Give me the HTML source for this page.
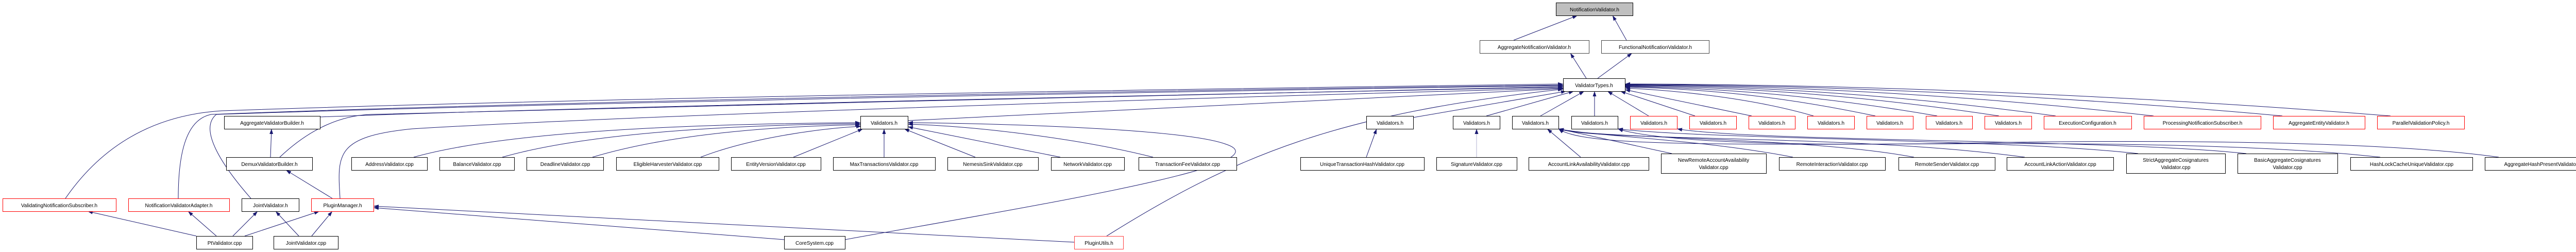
<!DOCTYPE html>
<html><head><meta charset="utf-8"><style>
html,body{margin:0;padding:0;background:#fff;}
svg{display:block;}
text{font-family:"Liberation Sans",Arial,sans-serif;font-size:10px;fill:#000;}
.e{fill:none;stroke:#191970;stroke-width:1;}
.n{fill:#fff;stroke:#000;stroke-width:1;}
.r{fill:#fff;stroke:#ff0000;stroke-width:1;}
.g{fill:#bfbfbf;stroke:#000;stroke-width:1;}
</style></head><body>
<svg width="5065" height="489" viewBox="0 0 5065 489" xmlns="http://www.w3.org/2000/svg">
<defs>
<marker id="a" markerUnits="userSpaceOnUse" markerWidth="11" markerHeight="8" refX="10" refY="3.5" orient="auto">
<path d="M0,0 L10,3.5 L0,7 z" fill="#191970"/>
</marker>
</defs>
<g marker-end="url(#a)">
<!-- top -->
<path class="e" d="M2938,78 L3062,30"/>
<path class="e" d="M3157,78 L3130,30"/>
<path class="e" d="M3079,152 L3048,103"/>
<path class="e" d="M3101,152 L3168,103"/>
<!-- left long edges to ValidatorTypes -->
<path class="e" d="M127,385 C210,265 320,222 430,215 C1200,188 2500,170 3034,163"/>
<path class="e" d="M346,385 C346,300 360,232 410,222 C1200,192 2500,172 3034,165"/>
<path class="e" d="M487,385 C430,320 385,250 420,222 C1200,196 2500,174 3034,166"/>
<path class="e" d="M543,305 C580,270 640,225 720,222 C1400,205 2500,178 3034,168"/>
<path class="e" d="M621,227 C1200,205 2500,180 3034,169"/>
<path class="e" d="M660,385 C655,300 650,265 800,250 C1300,220 2500,185 3034,171"/>
<path class="e" d="M1762,234 L3034,172"/>
<path class="e" d="M2148,458 C2400,300 2600,220 3034,173"/>
<path class="e" d="M2743,228 L3040,177"/>
<path class="e" d="M2885,225 L3055,177"/>
<path class="e" d="M2990,225 L3075,177"/>
<path class="e" d="M3095,225 L3095,177"/>
<path class="e" d="M3200,225 L3120,177"/>
<path class="e" d="M3290,225 L3145,177"/>
<path class="e" d="M3400,225 L3154,174"/>
<path class="e" d="M3520,225 C3400,190 3250,175 3154,171"/>
<path class="e" d="M3640,225 C3450,185 3300,172 3154,169"/>
<path class="e" d="M3760,225 C3500,180 3300,170 3154,168"/>
<path class="e" d="M3880,225 C3550,175 3300,168 3154,167"/>
<path class="e" d="M3990,225 C3600,172 3300,166 3154,166"/>
<path class="e" d="M4180,225 C3700,170 3300,165 3154,165"/>
<path class="e" d="M4430,225 C3800,168 3300,164 3154,164"/>
<path class="e" d="M4640,225 C3900,166 3300,163 3154,163"/>
<!-- AggValBuilder / Demux -->
<path class="e" d="M525,305 L527,250"/>
<path class="e" d="M645,385 L555,330"/>
<!-- Validators.h big children -->
<path class="e" d="M803,305 C1000,250 1400,240 1670,238"/>
<path class="e" d="M975,305 C1150,255 1450,242 1670,240"/>
<path class="e" d="M1150,305 C1300,260 1500,245 1670,242"/>
<path class="e" d="M1360,305 C1450,270 1580,250 1672,245"/>
<path class="e" d="M1540,305 L1675,250"/>
<path class="e" d="M1716,305 L1716,250"/>
<path class="e" d="M1893,305 L1755,250"/>
<path class="e" d="M2058,305 L1762,246"/>
<path class="e" d="M2238,305 C2100,270 1900,245 1762,241"/>
<path class="e" d="M1640,465 C2000,400 2500,320 2380,280 C2300,250 1950,240 1762,238"/>
<!-- Plugin manager -->
<path class="e" d="M1522,465 L725,403"/>
<path class="e" d="M2085,470 L725,400"/>
<!-- row 7 -->
<path class="e" d="M381,458 L170,410"/>
<path class="e" d="M420,458 L365,410"/>
<path class="e" d="M452,458 L500,410"/>
<path class="e" d="M475,458 L620,410"/>
<path class="e" d="M580,458 L535,410"/>
<path class="e" d="M605,458 L645,410"/>
<!-- right row 5 -->
<path class="e" d="M2652,305 L2672,250"/>
<path class="e" d="M2866,305 L2866,250" style="stroke:#b0b0d0"/>
<path class="e" d="M3068,305 L3003,250"/>
<path class="e" d="M3245,298 L3025,250"/>
<path class="e" d="M3480,305 C3300,270 3100,265 3025,250"/>
<path class="e" d="M3715,305 C3500,265 3100,270 3025,250"/>
<path class="e" d="M3930,305 C3600,260 3100,275 3025,250"/>
<path class="e" d="M4620,305 C4300,270 3800,280 3500,280 C3200,280 3060,275 3025,250"/>
<path class="e" d="M4150,298 C3900,270 3300,270 3140,250"/>
<path class="e" d="M4850,305 C4600,270 4100,272 3800,278 C3400,285 3200,270 3140,250"/>
<path class="e" d="M4360,298 C4100,270 3400,275 3255,250"/>
</g>
<!-- nodes -->
<g>
<rect class="g" x="3020.5" y="5.5" width="149" height="25"/><text x="3095" y="22" text-anchor="middle">NotificationValidator.h</text>
<rect class="n" x="2872.5" y="78.5" width="212" height="25" style="stroke:#444"/><text x="2978" y="95" text-anchor="middle">AggregateNotificationValidator.h</text>
<rect class="n" x="3108.5" y="78.5" width="209" height="25" style="stroke:#444"/><text x="3213" y="95" text-anchor="middle">FunctionalNotificationValidator.h</text>
<rect class="n" x="3034.5" y="152.5" width="120" height="25"/><text x="3094" y="169" text-anchor="middle">ValidatorTypes.h</text>

<rect class="n" x="435.5" y="225.5" width="186" height="25"/><text x="528" y="242" text-anchor="middle">AggregateValidatorBuilder.h</text>
<rect class="n" x="1670.5" y="225.5" width="92" height="25"/><text x="1716" y="242" text-anchor="middle">Validators.h</text>
<rect class="n" x="2652.5" y="225.5" width="91" height="25"/><text x="2698" y="242" text-anchor="middle">Validators.h</text>
<rect class="n" x="2820.5" y="225.5" width="91" height="25"/><text x="2866" y="242" text-anchor="middle">Validators.h</text>
<rect class="n" x="2935.5" y="225.5" width="90" height="25"/><text x="2980" y="242" text-anchor="middle">Validators.h</text>
<rect class="n" x="3050.5" y="225.5" width="90" height="25"/><text x="3095" y="242" text-anchor="middle">Validators.h</text>
<rect class="r" x="3164.5" y="225.5" width="91" height="25"/><text x="3210" y="242" text-anchor="middle">Validators.h</text>
<rect class="r" x="3279.5" y="225.5" width="91" height="25"/><text x="3325" y="242" text-anchor="middle">Validators.h</text>
<rect class="r" x="3394.5" y="225.5" width="90" height="25"/><text x="3439" y="242" text-anchor="middle">Validators.h</text>
<rect class="r" x="3508.5" y="225.5" width="91" height="25"/><text x="3554" y="242" text-anchor="middle">Validators.h</text>
<rect class="r" x="3623.5" y="225.5" width="90" height="25"/><text x="3668" y="242" text-anchor="middle">Validators.h</text>
<rect class="r" x="3738.5" y="225.5" width="90" height="25"/><text x="3783" y="242" text-anchor="middle">Validators.h</text>
<rect class="r" x="3852.5" y="225.5" width="91" height="25"/><text x="3898" y="242" text-anchor="middle">Validators.h</text>
<rect class="r" x="3967.5" y="225.5" width="170" height="25"/><text x="4052" y="242" text-anchor="middle">ExecutionConfiguration.h</text>
<rect class="r" x="4161.5" y="225.5" width="227" height="25"/><text x="4275" y="242" text-anchor="middle">ProcessingNotificationSubscriber.h</text>
<rect class="r" x="4412.5" y="225.5" width="178" height="25"/><text x="4501" y="242" text-anchor="middle">AggregateEntityValidator.h</text>
<rect class="r" x="4614.5" y="225.5" width="169" height="25"/><text x="4699" y="242" text-anchor="middle">ParallelValidationPolicy.h</text>

<rect class="n" x="439.5" y="305.5" width="167" height="25"/><text x="523" y="322" text-anchor="middle">DemuxValidatorBuilder.h</text>
<rect class="n" x="682.5" y="305.5" width="147" height="25"/><text x="756" y="322" text-anchor="middle">AddressValidator.cpp</text>
<rect class="n" x="853.5" y="305.5" width="145" height="25"/><text x="926" y="322" text-anchor="middle">BalanceValidator.cpp</text>
<rect class="n" x="1022.5" y="305.5" width="149" height="25"/><text x="1097" y="322" text-anchor="middle">DeadlineValidator.cpp</text>
<rect class="n" x="1196.5" y="305.5" width="199" height="25"/><text x="1296" y="322" text-anchor="middle">EligibleHarvesterValidator.cpp</text>
<rect class="n" x="1419.5" y="305.5" width="174" height="25"/><text x="1506" y="322" text-anchor="middle">EntityVersionValidator.cpp</text>
<rect class="n" x="1617.5" y="305.5" width="198" height="25"/><text x="1716" y="322" text-anchor="middle">MaxTransactionsValidator.cpp</text>
<rect class="n" x="1839.5" y="305.5" width="176" height="25"/><text x="1927" y="322" text-anchor="middle">NemesisSinkValidator.cpp</text>
<rect class="n" x="2040.5" y="305.5" width="142" height="25"/><text x="2111" y="322" text-anchor="middle">NetworkValidator.cpp</text>
<rect class="n" x="2210.5" y="305.5" width="190" height="25"/><text x="2305" y="322" text-anchor="middle">TransactionFeeValidator.cpp</text>
<rect class="n" x="2524.5" y="305.5" width="240" height="25"/><text x="2644" y="322" text-anchor="middle">UniqueTransactionHashValidator.cpp</text>
<rect class="n" x="2788.5" y="305.5" width="156" height="25"/><text x="2866" y="322" text-anchor="middle">SignatureValidator.cpp</text>
<rect class="n" x="2967.5" y="305.5" width="233" height="25"/><text x="3084" y="322" text-anchor="middle">AccountLinkAvailabilityValidator.cpp</text>
<rect class="n" x="3224.5" y="298.5" width="204" height="38"/><text x="3326" y="314" text-anchor="middle">NewRemoteAccountAvailability</text><text x="3326" y="328" text-anchor="middle">Validator.cpp</text>
<rect class="n" x="3453.5" y="305.5" width="206" height="25"/><text x="3556" y="322" text-anchor="middle">RemoteInteractionValidator.cpp</text>
<rect class="n" x="3685.5" y="305.5" width="187" height="25"/><text x="3779" y="322" text-anchor="middle">RemoteSenderValidator.cpp</text>
<rect class="n" x="3895.5" y="305.5" width="207" height="25"/><text x="3999" y="322" text-anchor="middle">AccountLinkActionValidator.cpp</text>
<rect class="n" x="4127.5" y="298.5" width="192" height="38"/><text x="4223" y="314" text-anchor="middle">StrictAggregateCosignatures</text><text x="4223" y="328" text-anchor="middle">Validator.cpp</text>
<rect class="n" x="4343.5" y="298.5" width="194" height="38"/><text x="4440" y="314" text-anchor="middle">BasicAggregateCosignatures</text><text x="4440" y="328" text-anchor="middle">Validator.cpp</text>
<rect class="n" x="4562.5" y="305.5" width="237" height="25"/><text x="4681" y="322" text-anchor="middle">HashLockCacheUniqueValidator.cpp</text>
<rect class="n" x="4823.5" y="305.5" width="236" height="25"/><text x="4941" y="322" text-anchor="middle">AggregateHashPresentValidator.cpp</text>

<rect class="r" x="5.5" y="385.5" width="220" height="25"/><text x="115" y="402" text-anchor="middle">ValidatingNotificationSubscriber.h</text>
<rect class="r" x="249.5" y="385.5" width="196" height="25"/><text x="347" y="402" text-anchor="middle">NotificationValidatorAdapter.h</text>
<rect class="n" x="469.5" y="385.5" width="111" height="25"/><text x="525" y="402" text-anchor="middle">JointValidator.h</text>
<rect class="r" x="604.5" y="385.5" width="121" height="25"/><text x="665" y="402" text-anchor="middle">PluginManager.h</text>

<rect class="n" x="381.5" y="458.5" width="109" height="25"/><text x="436" y="475" text-anchor="middle">PtValidator.cpp</text>
<rect class="n" x="531.5" y="458.5" width="125" height="25"/><text x="594" y="475" text-anchor="middle">JointValidator.cpp</text>
<rect class="n" x="1522.5" y="458.5" width="118" height="25"/><text x="1581" y="475" text-anchor="middle">CoreSystem.cpp</text>
<rect class="r" x="2085.5" y="458.5" width="95" height="25" style="stroke:#ff4040"/><text x="2133" y="475" text-anchor="middle">PluginUtils.h</text>
</g>
</svg>
</body></html>
